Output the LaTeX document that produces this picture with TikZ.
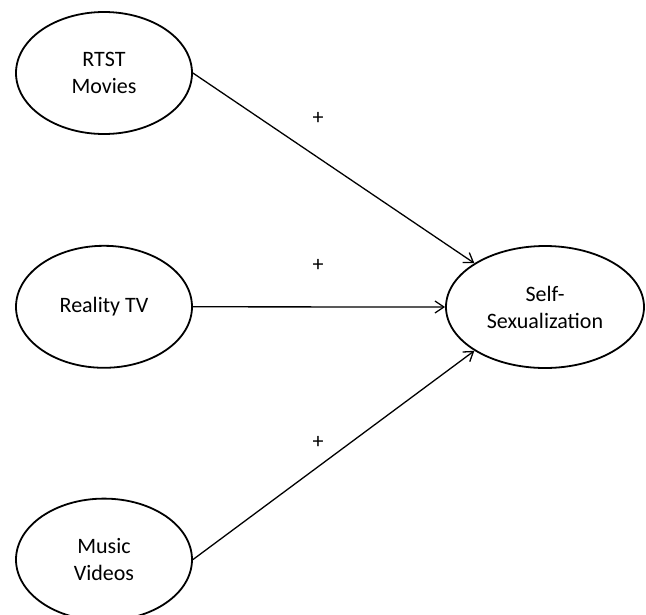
\documentclass[tikz,border=0pt]{standalone}
\usepackage{fontspec}
\setmainfont{Carlito}
\usetikzlibrary{arrows.meta,positioning,shapes.geometric}

\begin{document}
\begin{tikzpicture}[
  x=1pt, y=-1pt,
  construct/.style={draw, ellipse, line width=1.8pt, align=center, inner sep=0pt, minimum width=176pt, minimum height=122pt, font=\fontsize{22}{27}\selectfont},
  effect/.style={-{Straight Barb[length=9pt, width=12pt]}, line width=1.3pt},
  sign/.style={font=\fontsize{22}{27}\selectfont, inner sep=0pt}
]
\useasboundingbox (0,0) rectangle (646,614);
\node[construct] (rtst) at (104,73) {RTST\\Movies};
\node[construct, below=110pt of rtst] (reality) {Reality TV};
\node[construct, below=129pt of reality] (music) {Music\\Videos};
\node[construct, minimum width=198pt] (self) at (545,307) {Self-\\Sexualization};
\draw[effect] (rtst.east) -- node[sign, pos=0.445, yshift=39pt] (plustop) {+} (self.north west);
\draw[effect] (reality.east) -- node[sign, pos=0.496, yshift=41pt] (plusmid) {+} (self.west);
\draw[effect] (music.east) -- node[sign, pos=0.445, yshift=24pt] (plusbot) {+} (self.south west);
\end{tikzpicture}
\end{document}
